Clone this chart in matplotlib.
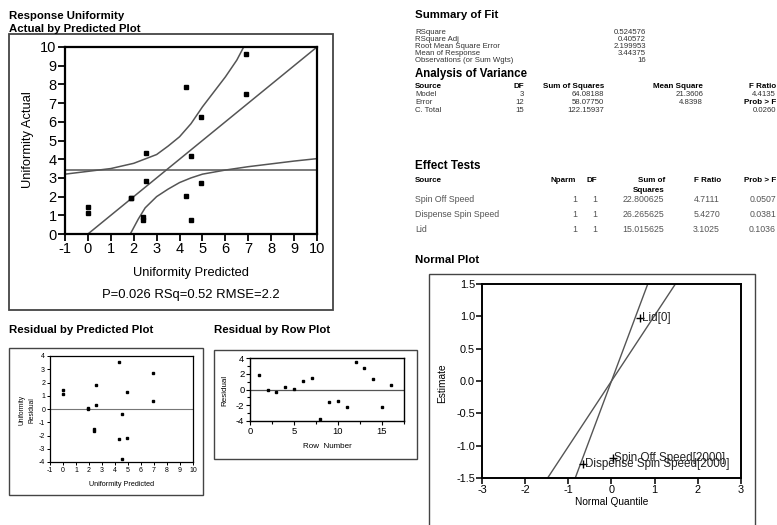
import numpy as np
import matplotlib
matplotlib.use("Agg")
from matplotlib import pyplot as plt
from matplotlib.patches import Rectangle

plt.rcParams['font.family'] = ['Liberation Sans', 'DejaVu Sans']
plt.rcParams['axes.unicode_minus'] = False

# data (rows 1..16)
row_num = np.arange(1, 17)
predicted = [2.55, 1.9, 4.5, 2.55, 1.9, 0.0, 0.0, 4.5, 2.4, 2.4, 4.95, 4.3, 6.9, 4.95, 4.3, 6.9]
actual = [4.35, 1.9, 4.15, 2.85, 1.95, 1.1, 1.45, 0.75, 0.75, 0.9, 2.75, 7.85, 9.65, 6.25, 2.05, 7.5]
mean_response = 3.44375

# confidence curves of the leverage plot
upper_x = [-1, 0, 1, 2, 3, 3.5, 4, 4.5, 5, 5.5, 6, 6.5, 6.8]
upper_y = [3.2, 3.35, 3.5, 3.78, 4.25, 4.7, 5.2, 5.9, 6.8, 7.6, 8.4, 9.3, 10]
lower_x = [1.85, 2.2, 2.5, 3, 3.5, 4, 4.5, 5, 6, 7, 8, 9, 10]
lower_y = [0, 0.8, 1.4, 2.0, 2.4, 2.75, 3.0, 3.2, 3.42, 3.6, 3.75, 3.9, 4.03]
fit_x = [-1, 10]
fit_y = [-1, 10]

# normal plot
effect_names = ["Lid[0]", "Spin Off Speed[2000]", "Dispense Spin Speed[2000]"]
effect_quantile = [0.67, 0.03, -0.65]
effect_estimate = [0.969, -1.194, -1.281]
line1_x = [-0.84, 0.84]
line1_y = [-1.5, 1.5]
line2_x = [-1.48, 1.48]
line2_y = [-1.5, 1.5]

# tables
fit_labels = ["RSquare", "RSquare Adj", "Root Mean Square Error", "Mean of Response",
              "Observations (or Sum Wgts)"]
fit_values = ["0.524576", "0.40572", "2.199953", "3.44375", "16"]
anova_source = ["Model", "Error", "C. Total"]
anova_df = ["3", "12", "15"]
anova_ss = ["64.08188", "58.07750", "122.15937"]
anova_ms = ["21.3606", "4.8398", ""]
anova_f = ["4.4135", "Prob > F", "0.0260"]
eff_source = ["Spin Off Speed", "Dispense Spin Speed", "Lid"]
eff_nparm = ["1", "1", "1"]
eff_df = ["1", "1", "1"]
eff_ss = ["22.800625", "26.265625", "15.015625"]
eff_f = ["4.7111", "5.4270", "3.1025"]
eff_p = ["0.0507", "0.0381", "0.1036"]

W, H = 777, 525
fig = plt.figure(figsize=(W / 100, H / 100), dpi=100)


def add_ax(l, t, r, b):
    return fig.add_axes([l / W, 1 - b / H, (r - l) / W, (b - t) / H])


def frame(l, t, r, b, lw=1.3):
    fig.add_artist(Rectangle((l / W, 1 - b / H), (r - l) / W, (b - t) / H,
                             transform=fig.transFigure, fill=False,
                             edgecolor="#444444", linewidth=lw))


def txt(x, y, s, **kw):
    kw.setdefault("va", "center")
    fig.text(x / W, 1 - y / H, s, **kw)


def style(ax, lw, size, ticklen):
    for sp in ax.spines.values():
        sp.set_linewidth(lw)
    ax.tick_params(direction="out", length=ticklen, width=lw * 0.8,
                   labelsize=size, pad=1)


residual = np.array(actual) - np.array(predicted)
title_kw = dict(fontweight="bold", fontsize=8.2)

# ---- Actual by Predicted
frame(9, 34, 333, 310)
ax = add_ax(65, 47, 317, 234)
ax.plot(fit_x, fit_y, color="#555555", lw=1.1)
ax.axhline(mean_response, color="#555555", lw=1.1)
ax.plot(upper_x, upper_y, color="#555555", lw=1.1)
ax.plot(lower_x, lower_y, color="#555555", lw=1.1)
ax.plot(predicted, actual, "s", color="black", ms=3)
ax.set_xlim(-1, 10)
ax.set_ylim(0, 10)
ax.set_xticks(range(-1, 11))
ax.set_yticks(range(0, 11))
style(ax, 1.6, 10.5, 5)
txt(28, 140, "Uniformity Actual", rotation=90, ha="center", fontsize=9.3)
txt(191, 273, "Uniformity Predicted", ha="center", fontsize=9.3)
txt(191, 295, "P=0.026 RSq=0.52 RMSE=2.2", ha="center", fontsize=9.4)
txt(9, 16, "Response Uniformity", **title_kw)
txt(9, 29, "Actual by Predicted Plot", **title_kw)

# ---- Residual by Predicted
txt(9, 330, "Residual by Predicted Plot", **title_kw)
frame(9, 348, 203, 495, lw=1.0)
ax2 = add_ax(50, 356, 193, 462)
ax2.axhline(0, color="#777777", lw=0.8)
ax2.plot(predicted, residual, "s", color="black", ms=1.6)
ax2.set_xlim(-1, 10)
ax2.set_ylim(-4, 4)
ax2.set_xticks(range(-1, 11))
ax2.set_yticks(range(-4, 5))
style(ax2, 0.9, 5, 2.5)
txt(27, 410, "Uniformity\nResidual", rotation=90, ha="center", fontsize=4.8,
    linespacing=1.6)
txt(122, 485, "Uniformity Predicted", ha="center", fontsize=5.2)

# ---- Residual by Row
txt(214, 330, "Residual by Row Plot", **title_kw)
frame(214, 350, 417, 459, lw=1.0)
ax3 = add_ax(250, 358, 404, 421)
ax3.axhline(0, color="#555555", lw=0.9)
ax3.plot(row_num, residual, "s", color="black", ms=1.8)
ax3.set_xlim(0, 17.4)
ax3.set_ylim(-4, 4)
ax3.set_xticks([0, 5, 10, 15])
ax3.set_xticks(np.arange(0, 18, 2.5), minor=True)
ax3.set_yticks([-4, -2, 0, 2, 4])
ax3.set_yticks(range(-4, 5), minor=True)
style(ax3, 1.0, 6.8, 3)
ax3.tick_params(which="minor", direction="out", length=2, width=0.8)
txt(225, 390, "Residual", rotation=90, ha="center", fontsize=5.8)
txt(327, 447, "Row  Number", ha="center", fontsize=5.8)

# ---- Normal Plot
txt(415, 260, "Normal Plot", **title_kw)
frame(429, 274, 755, 527, lw=1.0)
ax4 = add_ax(482, 284, 741, 478)
ax4.plot(line1_x, line1_y, color="#555555", lw=1.0)
ax4.plot(line2_x, line2_y, color="#555555", lw=1.0)
ax4.plot(effect_quantile, effect_estimate, "+", color="black", ms=6, mew=1.0)
for q, e, name in zip(effect_quantile, effect_estimate, effect_names):
    ax4.annotate(name, (q, e), xytext=(1, 0), textcoords="offset points",
                 va="center", ha="left", fontsize=8.4, color="#222222")
ax4.set_xlim(-3, 3)
ax4.set_ylim(-1.5, 1.5)
ax4.set_xticks(range(-3, 4))
ax4.set_yticks(np.arange(-1.5, 1.6, 0.5))
ax4.set_yticklabels(["%.1f" % v for v in np.arange(-1.5, 1.6, 0.5)])
style(ax4, 1.4, 7.8, 4)
txt(442, 383, "Estimate", rotation=90, ha="center", fontsize=7.3)
txt(612, 502, "Normal Quantile", ha="center", fontsize=7.3)

# ---- Summary of Fit
body = dict(fontsize=5.6, color="#333333")
hdr = dict(fontsize=5.8, fontweight="bold")
txt(415, 15, "Summary of Fit", **title_kw)
for i, (lab, val) in enumerate(zip(fit_labels, fit_values)):
    y = 32 + i * 7.2
    txt(415, y, lab, **body)
    txt(646, y, val, ha="right", **body)

# ---- Analysis of Variance
txt(415, 74, "Analysis of Variance", fontweight="bold", fontsize=8.3)
txt(415, 86, "Source", **hdr)
txt(524, 86, "DF", ha="right", **hdr)
txt(604, 86, "Sum of Squares", ha="right", **hdr)
txt(703, 86, "Mean Square", ha="right", **hdr)
txt(776, 86, "F Ratio", ha="right", **hdr)
for i in range(3):
    y = 95 + i * 7.5
    txt(415, y, anova_source[i], **body)
    txt(524, y, anova_df[i], ha="right", **body)
    txt(604, y, anova_ss[i], ha="right", **body)
    txt(703, y, anova_ms[i], ha="right", **body)
    if anova_f[i] == "Prob > F":
        txt(776, y, anova_f[i], ha="right", **hdr)
    else:
        txt(776, y, anova_f[i], ha="right", **body)

# ---- Effect Tests
txt(415, 166, "Effect Tests", fontweight="bold", fontsize=8.4)
txt(415, 180, "Source", **hdr)
txt(576, 180, "Nparm", ha="right", **hdr)
txt(597, 180, "DF", ha="right", **hdr)
txt(665, 180, "Sum of", ha="right", **hdr)
txt(665, 190, "Squares", ha="right", **hdr)
txt(721, 180, "F Ratio", ha="right", **hdr)
txt(776, 180, "Prob > F", ha="right", **hdr)
grey = dict(fontsize=6.3, color="#555555")
for i in range(3):
    y = 200 + i * 14.5
    txt(415, y, eff_source[i], **grey)
    txt(577, y, eff_nparm[i], ha="right", **grey)
    txt(597, y, eff_df[i], ha="right", **grey)
    txt(664, y, eff_ss[i], ha="right", **grey)
    txt(720, y, eff_f[i], ha="right", **grey)
    txt(776, y, eff_p[i], ha="right", **grey)

fig.savefig("out.png", dpi=100)
